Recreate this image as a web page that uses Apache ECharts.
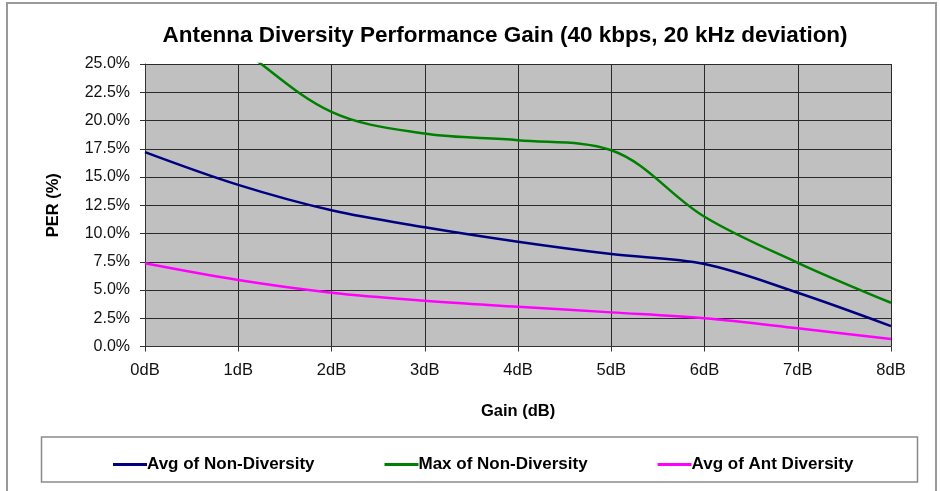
<!DOCTYPE html>
<html>
<head>
<meta charset="utf-8">
<script src="https://cdn.jsdelivr.net/npm/echarts@6/dist/echarts.min.js"></script>
<style>
html,body{margin:0;padding:0;background:#fff;}
#chart{width:940px;height:491px;}
</style>
</head>
<body>
<div id="chart"></div>
<script>
const gains = [0, 1, 2, 3, 4, 5, 6, 7, 8];
const avgNonDiversity = [17.2, 14.3, 12.05, 10.55, 9.27, 8.18, 7.3, 4.76, 1.81];
const maxNonDiversity = [32.0, 26.5, 20.76, 18.85, 18.26, 17.37, 11.48, 7.41, 3.87];
const avgAntDiversity = [7.36, 5.88, 4.76, 4.05, 3.52, 3.02, 2.49, 1.61, 0.66];
const seriesNames = ['Avg of Non-Diversity', 'Max of Non-Diversity', 'Avg of Ant Diversity'];
const seriesColors = ['#000080', '#008000', '#FF00FF'];
const yTicks = { min: 0, max: 25, interval: 2.5 };
const xTicks = { min: 0, max: 8, interval: 1 };

const FONT = 'Liberation Sans, Arial, sans-serif';
const chart = echarts.init(document.getElementById('chart'));

function pairs(vals) { return gains.map((g, i) => [g, vals[i]]); }
const allVals = [avgNonDiversity, maxNonDiversity, avgAntDiversity];

chart.setOption({
  animation: false,
  backgroundColor: '#ffffff',
  title: {
    text: 'Antenna Diversity Performance Gain (40 kbps, 20 kHz deviation)',
    left: 500, top: 19, textAlign: 'center',
    textStyle: { fontFamily: FONT, fontSize: 22.5, fontWeight: 'bold', color: '#000' }
  },
  grid: { left: 145, right: 49, top: 64, bottom: 144.5, show: true, backgroundColor: '#C0C0C0', borderWidth: 0 },
  xAxis: {
    type: 'value', min: xTicks.min, max: xTicks.max, interval: xTicks.interval,
    name: 'Gain (dB)', nameLocation: 'middle', nameGap: 56,
    nameTextStyle: { fontFamily: FONT, fontSize: 16.5, fontWeight: 'bold', color: '#000' },
    axisLine: { show: true, lineStyle: { color: '#333', width: 1 } },
    axisTick: { show: true, length: 5, lineStyle: { color: '#333' } },
    axisLabel: { fontFamily: FONT, fontSize: 16.5, color: '#111', margin: 15, formatter: v => v + 'dB' },
    splitLine: { show: true, lineStyle: { color: '#2a2a2a', width: 1 } }
  },
  yAxis: {
    type: 'value', min: yTicks.min, max: yTicks.max, interval: yTicks.interval,
    name: 'PER (%)', nameLocation: 'middle', nameGap: 83,
    nameTextStyle: { fontFamily: FONT, fontSize: 16.5, fontWeight: 'bold', color: '#000' },
    axisLine: { show: true, lineStyle: { color: '#333', width: 1 } },
    axisTick: { show: true, length: 5, lineStyle: { color: '#333' } },
    axisLabel: { fontFamily: FONT, fontSize: 16, color: '#111', margin: 15, formatter: v => v.toFixed(1) + '%' },
    splitLine: { show: true, lineStyle: { color: '#2a2a2a', width: 1 } }
  },
  legend: {
    left: 108, top: 451, itemGap: 70, itemWidth: 34, itemHeight: 3,
    icon: 'rect',
    textStyle: { fontFamily: FONT, fontSize: 17, fontWeight: 'bold', color: '#000', padding: [0, 0, 0, -5] },
    data: seriesNames
  },
  graphic: [
    { type: 'rect', shape: { x: 7, y: 3, width: 929, height: 520 }, style: { fill: null, stroke: '#9a9a9a', lineWidth: 2 }, silent: true },
    { type: 'rect', shape: { x: 41.5, y: 437, width: 876, height: 45 }, style: { fill: null, stroke: '#8a8a8a', lineWidth: 1.5 }, silent: true }
  ],
  series: seriesNames.map((name, i) => ({
    name, type: 'line', data: pairs(allVals[i]), smooth: 0.35,
    showSymbol: false, symbol: 'none', clip: true,
    lineStyle: { color: seriesColors[i], width: 2.5 },
    itemStyle: { color: seriesColors[i] }
  }))
});
</script>
</body>
</html>
